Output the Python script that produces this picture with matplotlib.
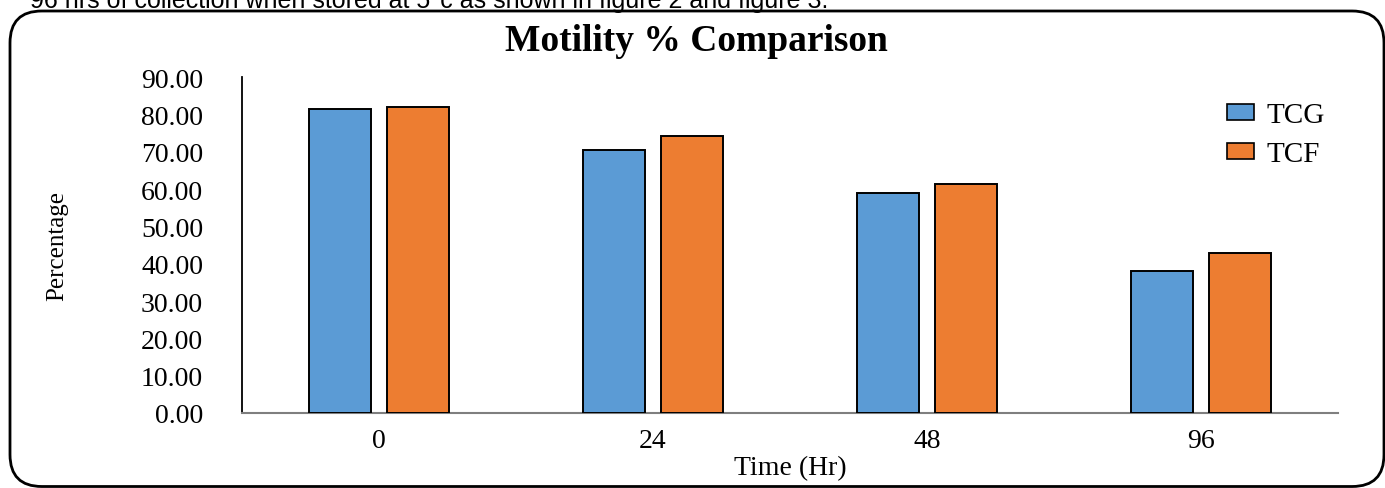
import numpy as np
import matplotlib
matplotlib.use("Agg")
import matplotlib.pyplot as plt
from matplotlib.patches import FancyBboxPatch, Patch

# Chart data
times = ["0", "24", "48", "96"]
tcg = [81.4, 70.4, 58.9, 38.0]
tcf = [81.9, 74.1, 61.4, 42.8]
series_names = ["TCG", "TCF"]
yticks = [0, 10, 20, 30, 40, 50, 60, 70, 80, 90]

blue = "#5B9BD5"
orange = "#ED7D31"
serif = ["Liberation Serif", "DejaVu Serif"]

W, H = 1385, 489
fig = plt.figure(figsize=(W / 100, H / 100), dpi=100)
ax = fig.add_axes([242 / W, 1 - 414 / H, 1096 / W, 336 / H])

x = np.arange(len(times))
bw = 0.226
off = 0.142
ax.bar(x - off, tcg, bw, color=blue, edgecolor="black", linewidth=1.4, zorder=3)
ax.bar(x + off, tcf, bw, color=orange, edgecolor="black", linewidth=1.4, zorder=3)

ax.set_xlim(-0.5, len(times) - 0.5)
ax.set_ylim(0, 90)
ax.set_xticks(x)
ax.set_xticklabels(times, fontfamily=serif, fontsize=20)
ax.set_yticks(yticks)
ax.set_yticklabels([f"{v:.2f}" for v in yticks], fontfamily=serif, fontsize=20)
ax.tick_params(axis="y", length=0, pad=28)
ax.tick_params(axis="x", length=0, pad=11)

for s in ["top", "right"]:
    ax.spines[s].set_visible(False)
ax.spines["left"].set_color("black")
ax.spines["left"].set_linewidth(1.3)
ax.spines["bottom"].set_color("#7f7f7f")
ax.spines["bottom"].set_linewidth(1.5)

ax.set_xlabel("Time (Hr)", fontfamily=serif, fontsize=20, labelpad=1)
ax.set_ylabel("Percentage", fontfamily=serif, fontsize=18)
ax.yaxis.set_label_coords(-0.159, 0.5)

fig.text(0.503, 1 - 42 / H, "Motility % Comparison", ha="center", va="center",
         fontfamily=serif, fontsize=27, fontweight="bold")

handles = [Patch(facecolor=blue, edgecolor="black", linewidth=1.2),
           Patch(facecolor=orange, edgecolor="black", linewidth=1.2)]
fig.legend(handles, series_names, loc="upper left",
           bbox_to_anchor=(1201 / W, 1 - 77 / H), frameon=False,
           prop={"family": serif, "size": 21}, handlelength=0.9,
           handleheight=0.45, labelspacing=0.45, handletextpad=0.45)

# rounded frame around the figure and the clipped caption line above it
frame = FancyBboxPatch((10 / W, 1.5 / H), 1374 / W, (H - 13.5) / H,
                       boxstyle="round,pad=0,rounding_size=0.023",
                       transform=fig.transFigure, fill=False,
                       edgecolor="black", linewidth=2, mutation_aspect=W / H)
fig.patches.append(frame)
fig.text(30 / W, 1 - 8 / H,
         "96 hrs of collection when stored at 5\u00b0c as shown in figure 2 and figure 3.",
         ha="left", va="baseline", fontfamily=["Liberation Sans", "DejaVu Sans"],
         fontsize=18)

fig.savefig("out.png", dpi=100)
